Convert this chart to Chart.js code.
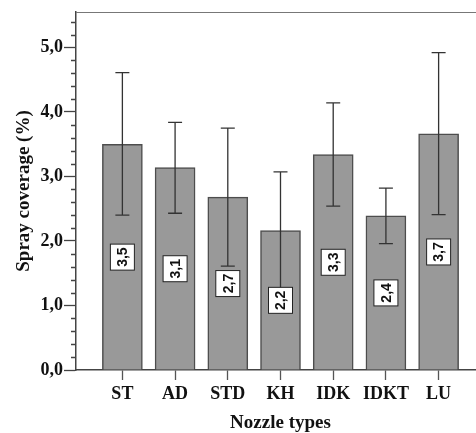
<!DOCTYPE html>
<html>
<head>
<meta charset="utf-8">
<script src="https://cdn.jsdelivr.net/npm/chart.js@4.4.0/dist/chart.umd.min.js"></script>
<style>
  html, body { margin: 0; padding: 0; background: #fff; overflow: hidden; }
  #wrap { width: 476px; height: 433px; overflow: hidden; }
</style>
</head>
<body>
<div id="wrap"><canvas id="coverageChart" width="485" height="433"></canvas></div>
<script>
// Chart data
const NOZZLES = ['ST', 'AD', 'STD', 'KH', 'IDK', 'IDKT', 'LU'];
const MEANS = [3.50, 3.14, 2.68, 2.16, 3.34, 2.39, 3.66];
const UPPER = [4.61, 3.84, 3.75, 3.07, 4.14, 2.82, 4.92];
const LOWER = [2.40, 2.43, 1.61, 1.25, 2.54, 1.96, 2.41];
const Y_MAJOR_TICKS = [0, 1, 2, 3, 4, 5];
const Y_MINOR_TICKS = [0.2, 0.4, 0.6, 0.8, 1.2, 1.4, 1.6, 1.8, 2.2, 2.4, 2.6, 2.8,
                       3.2, 3.4, 3.6, 3.8, 4.2, 4.4, 4.6, 4.8, 5.2, 5.4];

const SERIF = "'Liberation Serif', 'Times New Roman', serif";
const AXIS_COLOR = '#444';

// Format number with decimal comma
function commaNum(v) {
  return v.toFixed(1).replace('.', ',');
}

// Error bars, value boxes, minor ticks and top frame
const extrasPlugin = {
  id: 'extras',
  afterDatasetsDraw(chart) {
    const ctx = chart.ctx;
    const yScale = chart.scales.y;
    const bars = chart.getDatasetMeta(0).data;

    // Draw error bars
    ctx.save();
    ctx.strokeStyle = '#333';
    ctx.lineWidth = 1.3;
    bars.forEach((bar, i) => {
      const yUp = yScale.getPixelForValue(UPPER[i]);
      const yLo = yScale.getPixelForValue(LOWER[i]);
      ctx.beginPath();
      ctx.moveTo(bar.x, yUp);
      ctx.lineTo(bar.x, yLo);
      ctx.moveTo(bar.x - 7, yUp);
      ctx.lineTo(bar.x + 7, yUp);
      ctx.moveTo(bar.x - 7, yLo);
      ctx.lineTo(bar.x + 7, yLo);
      ctx.stroke();
    });
    ctx.restore();

    // Draw rotated value labels in white boxes
    ctx.save();
    bars.forEach((bar, i) => {
      const yMid = yScale.getPixelForValue(MEANS[i] / 2);
      ctx.save();
      ctx.translate(bar.x, yMid);
      ctx.rotate(-Math.PI / 2);
      ctx.fillStyle = '#fff';
      ctx.strokeStyle = '#222';
      ctx.lineWidth = 1;
      ctx.fillRect(-13, -12, 26, 24);
      ctx.strokeRect(-13, -12, 26, 24);
      ctx.fillStyle = '#111';
      ctx.font = "bold 14px 'Liberation Sans', Arial, sans-serif";
      ctx.textAlign = 'center';
      ctx.textBaseline = 'middle';
      ctx.fillText(commaNum(MEANS[i]), 0, 1);
      ctx.restore();
    });
    ctx.restore();
  },
  afterDraw(chart) {
    const ctx = chart.ctx;
    const area = chart.chartArea;
    const yScale = chart.scales.y;

    // Minor ticks on the value axis
    ctx.save();
    ctx.strokeStyle = AXIS_COLOR;
    ctx.lineWidth = 1.3;
    ctx.beginPath();
    Y_MINOR_TICKS.forEach(v => {
      const y = Math.round(yScale.getPixelForValue(v)) + 0.5;
      ctx.moveTo(area.left - 5, y);
      ctx.lineTo(area.left, y);
    });
    ctx.stroke();

    // Top frame line
    ctx.strokeStyle = '#777';
    ctx.lineWidth = 1.2;
    ctx.beginPath();
    ctx.moveTo(area.left, area.top + 0.5);
    ctx.lineTo(area.right, area.top + 0.5);
    ctx.stroke();
    ctx.restore();
  }
};

const ctx = document.getElementById('coverageChart').getContext('2d');
const chart = new Chart(ctx, {
  type: 'bar',
  data: {
    datasets: [{
      data: MEANS.map((v, i) => ({ x: i, y: v })),
      backgroundColor: '#999999',
      borderColor: '#4d4d4d',
      borderWidth: 1.5,
      barThickness: 40,
    }],
  },
  options: {
    responsive: false,
    animation: false,
    layout: { padding: { top: 12, left: 0, right: 0, bottom: 0 } },
    plugins: {
      legend: { display: false },
      tooltip: { enabled: false },
    },
    scales: {
      x: {
        type: 'linear',
        min: -0.88,
        max: 6.88,
        offset: false,
        afterBuildTicks: axis => { axis.ticks = NOZZLES.map((_, i) => ({ value: i })); },
        afterFit: axis => { axis.height = 63; },
        grid: {
          display: true,
          offset: false,
          drawOnChartArea: false,
          drawTicks: true,
          tickLength: 10,
          tickColor: '#555',
          tickWidth: 1.3,
        },
        border: { display: true, color: AXIS_COLOR, width: 1.5 },
        ticks: {
          callback: v => NOZZLES[v],
          autoSkip: false,
          maxRotation: 0,
          padding: 4,
          color: '#111',
          font: { family: SERIF, size: 18, weight: 'bold' },
        },
        title: {
          display: true,
          text: 'Nozzle types',
          color: '#111',
          padding: 0,
          font: { family: SERIF, size: 19, weight: 'bold', lineHeight: 1 },
        },
      },
      y: {
        min: 0,
        max: 5.55,
        afterBuildTicks: axis => { axis.ticks = Y_MAJOR_TICKS.map(v => ({ value: v })); },
        afterFit: axis => { axis.width = 76; },
        grid: {
          display: true,
          drawOnChartArea: false,
          drawTicks: true,
          tickLength: 12,
          tickColor: AXIS_COLOR,
          tickWidth: 1.3,
        },
        border: { display: true, color: AXIS_COLOR, width: 1.5 },
        ticks: {
          callback: v => commaNum(v),
          padding: 1,
          color: '#111',
          font: { family: SERIF, size: 18, weight: 'bold' },
        },
        title: {
          display: true,
          text: 'Spray coverage (%)',
          color: '#111',
          padding: { top: 13, bottom: 0 },
          font: { family: SERIF, size: 19, weight: 'bold' },
        },
      },
    },
  },
  plugins: [extrasPlugin],
});
</script>
</body>
</html>
